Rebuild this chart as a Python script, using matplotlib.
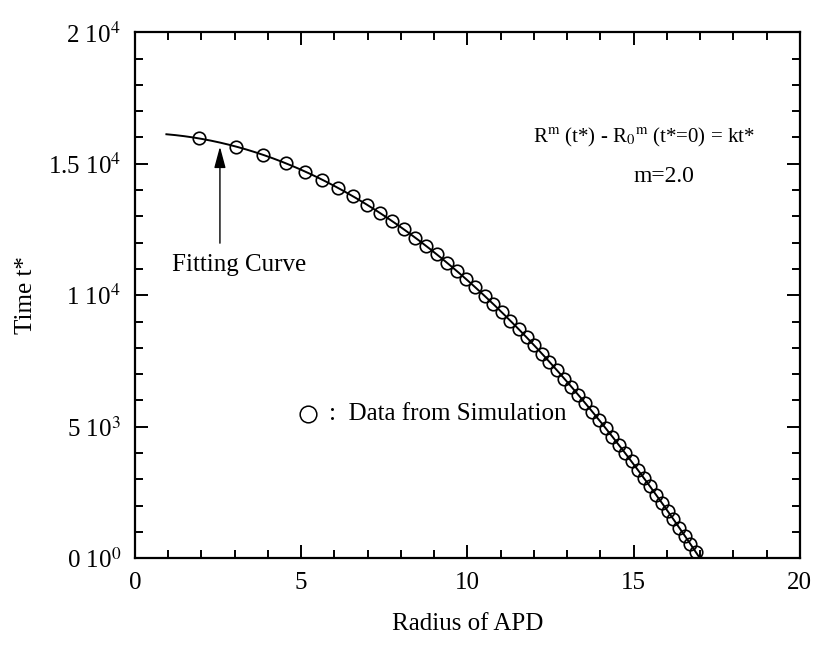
import matplotlib
matplotlib.use("Agg")
import matplotlib.pyplot as plt
import numpy as np
from matplotlib.ticker import FixedLocator, MultipleLocator

plt.rcParams['font.family'] = ['Liberation Serif', 'DejaVu Serif']
plt.rcParams['mathtext.fontset'] = 'stix'

# data: radius of APD vs time t*
radius = [1.92, 3.05, 3.87, 4.54, 5.12, 5.64, 6.12, 6.56, 6.98, 7.37,
          7.74, 8.10, 8.44, 8.76, 9.08, 9.38, 9.68, 9.97, 10.24, 10.52,
          10.78, 11.04, 11.29, 11.54, 11.78, 12.01, 12.25, 12.47, 12.70, 12.92,
          13.13, 13.34, 13.55, 13.76, 13.96, 14.16, 14.36, 14.55, 14.75, 14.94,
          15.12, 15.31, 15.49, 15.67, 15.85, 16.03, 16.20, 16.37, 16.54, 16.71,
          16.88]
time_t = [15965, 15650, 15335, 15020, 14705, 14390, 14075, 13760, 13445, 13130,
          12815, 12500, 12185, 11870, 11555, 11240, 10925, 10610, 10295, 9980,
          9665, 9350, 9035, 8720, 8405, 8090, 7775, 7460, 7145, 6830,
          6515, 6200, 5885, 5570, 5255, 4940, 4625, 4310, 3995, 3680,
          3365, 3050, 2735, 2420, 2105, 1790, 1475, 1160, 845, 530,
          215]

yticks = [0, 5000, 10000, 15000, 20000]
ytick_labels = ['0 10$^0$', '5 10$^3$', '1 10$^4$', '1.5 10$^4$', '2 10$^4$']

radius = np.array(radius)
time_t = np.array(time_t)

# fitting curve R^2 - R0^2 = -k t  ->  t = a + b R^2
b, a = np.polyfit(radius ** 2, time_t, 1)
r_end = np.sqrt(-a / b)
r_fit = np.linspace(0.95, r_end, 300)
t_fit = a + b * r_fit ** 2

fig = plt.figure(figsize=(8.17, 6.46), dpi=100)
ax = fig.add_axes([0.165, 0.136, 0.814, 0.814])

ax.plot(r_fit, t_fit, color='black', lw=1.4)
ax.plot(radius, time_t, 'o', mfc='none', mec='black', ms=9, mew=1.2)

ax.set_xlim(0, 20)
ax.set_ylim(0, 20000)
ax.xaxis.set_major_locator(MultipleLocator(5))
ax.xaxis.set_minor_locator(MultipleLocator(1))
ax.yaxis.set_major_locator(FixedLocator(yticks))
ax.yaxis.set_minor_locator(MultipleLocator(1000))
ax.set_yticklabels(ytick_labels)

ax.tick_params(which='both', direction='in', top=True, right=True,
               labelsize=18, width=1.4)
ax.tick_params(which='major', length=9.5, pad=10)
ax.tick_params(which='minor', length=5.5)
for s in ax.spines.values():
    s.set_linewidth(1.6)

ax.set_xlabel('Radius of APD', fontsize=18, labelpad=14)
ax.set_ylabel('Time t*', fontsize=18, labelpad=8)

ax.text(11.97, 16010, r'R$^{\rm m}$ (t*) - R$_0$$^{\rm m}$ (t*=0) = kt*',
        fontsize=15, va='center', ha='left')
ax.text(15.9, 14500, 'm=2.0', fontsize=17, va='center', ha='center')

ax.annotate('', xy=(2.56, 15650), xytext=(2.56, 11980),
            arrowprops=dict(arrowstyle='-|>,head_length=1.3,head_width=0.35',
                            color='black', lw=1.0, shrinkA=0, shrinkB=0))
ax.text(1.11, 11140, 'Fitting Curve', fontsize=18, va='center', ha='left')

ax.plot([5.2], [5500], 'o', mfc='none', mec='black', ms=12, mew=1.1)
ax.text(5.85, 5500, ':  Data from Simulation', fontsize=18, va='center', ha='left')

fig.savefig('out.png', dpi=100)
